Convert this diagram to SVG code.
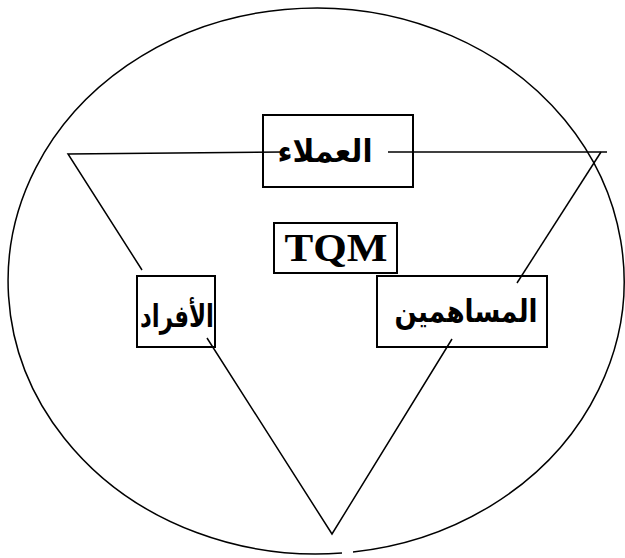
<svg xmlns="http://www.w3.org/2000/svg" width="625" height="558" viewBox="0 0 625 558">
<style>
.box{fill:#fff;stroke:#000;stroke-width:2}
.ln{fill:none;stroke:#000;stroke-width:1.5}
.ar{font-family:"DejaVu Sans",sans-serif;font-weight:bold;font-size:31px;fill:#000;text-anchor:middle}
.lat{font-family:"Liberation Serif",serif;font-weight:bold;font-size:41px;fill:#000;text-anchor:middle}
</style>
<rect width="625" height="558" fill="#fff"/>
<g id="circle">
<path class="ln" d="M353 552 A308 273 0 1 0 342 553"/>
</g>
<g id="node-customers">
<rect class="box" x="263" y="115" width="150" height="72"/>
<text class="ar" x="325" y="162" textLength="95" lengthAdjust="spacingAndGlyphs">العملاء</text>
</g>
<g id="node-tqm">
<rect class="box" x="274" y="223" width="123" height="50"/>
<text class="lat" x="336" y="261" textLength="103" lengthAdjust="spacingAndGlyphs">TQM</text>
</g>
<g id="node-individuals">
<rect class="box" x="137" y="276" width="78" height="71"/>
<text class="ar" x="177" y="327" textLength="74" lengthAdjust="spacingAndGlyphs">الأفراد</text>
</g>
<g id="node-shareholders">
<rect class="box" x="377" y="276" width="170" height="71"/>
<text class="ar" x="466" y="322" textLength="143" lengthAdjust="spacingAndGlyphs">المساهمين</text>
</g>
<g id="connectors">
<polyline class="ln" points="283,152 68,154 142,270"/>
<polyline class="ln" points="388,152 607,152"/>
<line class="ln" x1="601" y1="152" x2="517" y2="283"/>
<polyline class="ln" points="207,338 332,534 452,339"/>
</g>
</svg>
